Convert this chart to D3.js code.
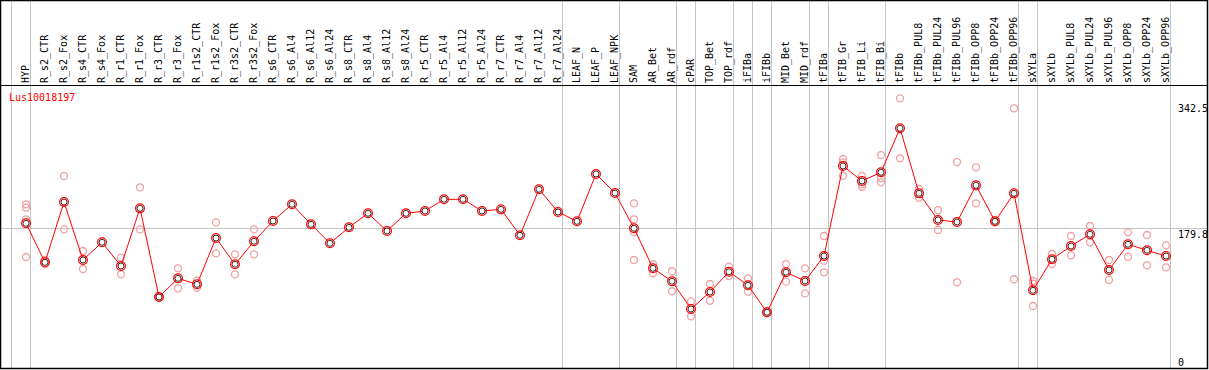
<!DOCTYPE html>
<html>
<head>
<meta charset="utf-8">
<script src="https://cdn.jsdelivr.net/npm/d3@7"></script>
<style>
  body { margin: 0; background: #fff; }
  svg text { font-family: "DejaVu Sans Mono", monospace; font-size: 10px; }
</style>
</head>
<body>
<svg id="chart"></svg>
<script>
// sample names along the x axis
var samples = ["HYP","R_s2_CTR","R_s2_Fox","R_s4_CTR","R_s4_Fox","R_r1_CTR","R_r1_Fox","R_r3_CTR","R_r3_Fox",
  "R_r1s2_CTR","R_r1s2_Fox","R_r3s2_CTR","R_r3s2_Fox","R_s6_CTR","R_s6_Al4","R_s6_Al12","R_s6_Al24",
  "R_s8_CTR","R_s8_Al4","R_s8_Al12","R_s8_Al24","R_r5_CTR","R_r5_Al4","R_r5_Al12","R_r5_Al24",
  "R_r7_CTR","R_r7_Al4","R_r7_Al12","R_r7_Al24","LEAF_N","LEAF_P","LEAF_NPK","SAM","AR_Bet","AR_rdf",
  "cPAR","TOP_Bet","TOP_rdf","iFIBa","iFIBb","MID_Bet","MID_rdf","tFIBa","tFIB_Gr","tFIB_Li","tFIB_Bi",
  "tFIBb","tFIBb_PUL8","tFIBb_PUL24","tFIBb_PUL96","tFIBb_OPP8","tFIBb_OPP24","tFIBb_OPP96",
  "sXYLa","sXYLb","sXYLb_PUL8","sXYLb_PUL24","sXYLb_PUL96","sXYLb_OPP8","sXYLb_OPP24","sXYLb_OPP96"];

// mean expression per sample
var means = [186.2,136.0,213.6,139.0,161.8,131.3,205.5,91.4,115.4,
  107.7,167.3,133.5,163.1,189.2,210.7,184.9,160.5,
  181.1,199.1,176.3,199.1,202.1,217.1,217.1,202.1,
  204.2,170.8,230.0,200.8,188.8,249.7,225.2,179.8,128.3,111.6,
  75.9,97.8,123.9,106.4,71.7,123.2,112.0,144.1,260.0,240.7,251.9,
  308.5,224.8,190.5,187.9,235.1,188.8,224.8,
  100.0,139.9,157.0,172.1,126.1,159.2,151.5,144.1];

// individual replicates (empty where only the mean is shown)
var replicates = [
  [210.7,206.3,191.4,142.9],[139.0,133.8],[247.1,178.5],[150.6,127.4],[],[142.0,120.6],[232.6,178.5],[91.8,90.5],[128.3,102.6],
  [112.4,103.3],[187.5,147.6],[146.3,120.6],[178.5,146.3],[],[],[],[],
  [],[],[],[],[],[],[],[],
  [],[],[],[],[],[],[],[212.0,191.4,175.0,139.0],[133.8,121.9],[124.5,98.7],
  [85.8,66.5],[108.1,86.6],[130.4,118.4],[115.4,98.2],[73.1,70.8],[133.8,111.1],[128.3,96.1],[169.9,138.1,123.2],[269.0,264.7,247.5],[247.1,236.4,233.3],[274.1,244.1,239.0],
  [347.1,269.9],[230.4,219.2],[203.3,177.6],[265.1,110.3],[258.3,212.0],[190.0,187.6],[334.2,114.2],
  [112.0,108.5,79.8],[146.7,133.8],[169.9,145.0],[182.8,161.8],[139.0,113.3],[174.6,143.2],[171.2,132.2],[157.9,129.6]
];

// last sample of each tissue group
var groupEnds = ["HYP","R_r7_Al24","LEAF_NPK","AR_rdf","cPAR","TOP_rdf","iFIBa","iFIBb","MID_rdf",
  "tFIBa","tFIB_Bi","tFIBb_OPP96","sXYLa","sXYLb_OPP96"];

var yTicks = [0, 179.8, 342.5];
var geneName = "Lus10018197";

var width = 1209, height = 370;
var headerBottom = 85.5;

var svg = d3.select("#chart")
  .attr("width", width)
  .attr("height", height);

var x = d3.scalePoint()
  .domain(samples)
  .range([26, 1166]);
var step = x.step();

var y = d3.scaleLinear()
  .domain([0, 342.5])
  .range([368, 101.9]);

// group separators
var sepX = [x(samples[0]) - step + 4.5].concat(groupEnds.map(function(s) { return x(s) + 4.5; }));
svg.append("g").selectAll("line")
  .data(sepX)
  .join("line")
  .attr("x1", d => d).attr("x2", d => d)
  .attr("y1", 0).attr("y2", 368)
  .attr("stroke", "#c4c4c4");

// middle gridline
svg.append("line")
  .attr("x1", 1).attr("x2", 1208)
  .attr("y1", Math.round(y(179.8)) + 0.5).attr("y2", Math.round(y(179.8)) + 0.5)
  .attr("stroke", "#c4c4c4");

// frame
svg.append("rect")
  .attr("x", 0.5).attr("y", 0.5)
  .attr("width", 1207).attr("height", 368)
  .attr("fill", "none")
  .attr("stroke", "#000")
  .attr("stroke-width", 1.5);

svg.append("line")
  .attr("x1", 0).attr("x2", 1208)
  .attr("y1", headerBottom).attr("y2", headerBottom)
  .attr("stroke", "#000");

// sample labels
svg.append("g").selectAll("text")
  .data(samples)
  .join("text")
  .attr("transform", d => `translate(${x(d) + 3},83) rotate(-90)`)
  .attr("text-anchor", "start")
  .attr("fill", "#000")
  .text(d => d);

// y labels on the right
svg.append("g").selectAll("text")
  .data(yTicks)
  .join("text")
  .attr("x", 1178)
  .attr("y", d => d === 0 ? y(d) - 2 : y(d) + 10)
  .attr("fill", "#000")
  .text(d => d);

svg.append("text")
  .attr("x", 9).attr("y", 101)
  .attr("fill", "red")
  .text(geneName);

// replicates
var repPts = [];
replicates.forEach(function(r, i) {
  r.forEach(function(v) { repPts.push({s: samples[i], v: v}); });
});
svg.append("g").selectAll("circle")
  .data(repPts)
  .join("circle")
  .attr("cx", d => x(d.s))
  .attr("cy", d => y(d.v))
  .attr("r", 3.5)
  .attr("fill", "none")
  .attr("stroke", "#f0a0a0")
  .attr("stroke-width", 1.3);

// mean line
var line = d3.line()
  .x((d, i) => x(samples[i]))
  .y(d => y(d));

svg.append("path")
  .datum(means)
  .attr("d", line)
  .attr("fill", "none")
  .attr("stroke", "red")
  .attr("stroke-width", 1);

var meanG = svg.append("g").selectAll("g")
  .data(means)
  .join("g")
  .attr("transform", (d, i) => `translate(${x(samples[i])},${y(d)})`);
meanG.append("circle")
  .attr("r", 4.4)
  .attr("fill", "none")
  .attr("stroke", "red")
  .attr("stroke-width", 1.2);
meanG.append("circle")
  .attr("r", 3)
  .attr("fill", "#fff")
  .attr("stroke", "#000")
  .attr("stroke-width", 0.8);
</script>
</body>
</html>
